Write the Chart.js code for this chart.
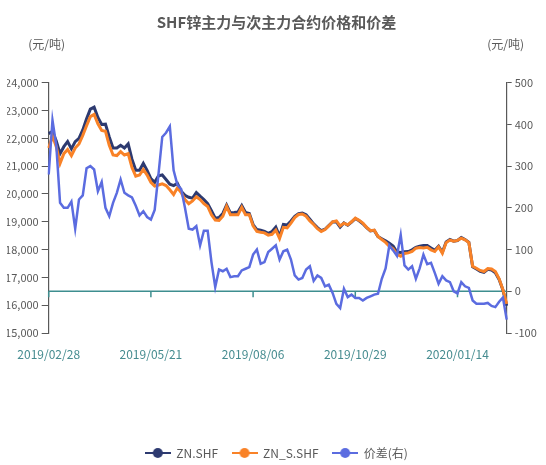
<!DOCTYPE html>
<html>
<head>
<meta charset="utf-8">
<script src="https://cdn.jsdelivr.net/npm/chart.js@4.4.1/dist/chart.umd.min.js"></script>
<style>
  html, body { margin: 0; padding: 0; background: #fff; }
  #wrap { width: 546px; height: 465px; }
</style>
</head>
<body>
<div id="wrap"><canvas id="spreadChart" width="546" height="465"></canvas></div>
<script>
// exchange closed on these weekdays
var holidays = ['2019/04/05', '2019/05/01', '2019/05/02', '2019/05/03', '2019/06/07', '2019/09/13',
  '2019/10/01', '2019/10/02', '2019/10/03', '2019/10/04', '2019/10/07', '2020/01/01',
  '2020/01/24', '2020/01/27', '2020/01/28', '2020/01/29', '2020/01/30', '2020/01/31'];
var tickLabels = ['2019/02/28', '2019/05/21', '2019/08/06', '2019/10/29', '2020/01/14'];

// every second trading day, 2019/02/28 .. 2020/02/27
var znMain = [
  22170, 22250, 21900, 21450, 21700, 21880, 21620, 21880, 22000, 22300,
  22700, 23050, 23120, 22750, 22500, 22510, 22050, 21650, 21650, 21750,
  21650, 21800, 21250, 20850, 20850, 21100, 20850, 20550, 20420, 20650,
  20680, 20520, 20350, 20300, 20380, 20100, 19950, 19880, 19850, 20050,
  19920, 19800, 19650, 19400, 19130, 19150, 19300, 19600, 19320, 19330,
  19350, 19580, 19330, 19300, 18900, 18720, 18700, 18650, 18580,
  18650, 18810, 18480, 18900, 18880, 19030, 19190, 19290, 19310, 19250,
  19090, 18925, 18790, 18680, 18730, 18865, 18995, 19000, 18810, 18955,
  18875, 18990, 19115, 19035, 18930, 18785, 18670, 18690, 18465, 18390,
  18315, 18230, 18130, 17915, 17895, 17920, 17930, 17990, 18080, 18125,
  18150, 18145, 18060, 17975, 18120, 17905, 18275, 18360, 18300, 18325,
  18430, 18360, 18260, 17380, 17300, 17220, 17180, 17290, 17265, 17170,
  16925, 16545, 15980
];
var znSub = [
  21650, 22080, 21700, 21100, 21450, 21600, 21380, 21650, 21800, 22100,
  22450, 22780, 22860, 22520, 22280, 22250, 21750, 21400, 21380, 21520,
  21400, 21450, 20950, 20640, 20680, 20880, 20680, 20420, 20280, 20320,
  20360, 20300, 20150, 19980, 20220, 20050, 19800, 19650, 19750, 19900,
  19800, 19650, 19550, 19250, 19060, 19050, 19200, 19550, 19250, 19250,
  19250, 19520, 19250, 19250, 18850, 18650, 18620, 18600, 18520,
  18550, 18700, 18400, 18800, 18780, 18950, 19150, 19260, 19280, 19200,
  19030, 18900, 18750, 18650, 18720, 18850, 19000, 19030, 18850, 18950,
  18890, 19000, 19130, 19050, 18950, 18800, 18680, 18700, 18470, 18360,
  18260, 18120, 18030, 17830, 17760, 17860, 17880, 17930, 18050, 18070,
  18060, 18080, 17990, 17930, 18100, 17870, 18250, 18340, 18300, 18330,
  18410, 18350, 18250, 17400, 17330, 17250, 17210, 17320, 17300, 17210,
  16950, 16560, 16050
];
var spread = [
  280, 410, 350, 212, 200, 200, 215, 150, 220, 230,
  295, 300, 292, 240, 262, 200, 180, 212, 236, 268,
  236, 230, 225, 205, 182, 192, 178, 172, 195, 280,
  370, 380, 395, 290, 255, 245, 200, 150, 148, 156,
  110, 145, 145, 70, 10, 52, 48, 54, 34, 36,
  36, 50, 54, 58, 88, 100, 66, 70, 94, 102,
  110, 76, 96, 100, 76, 38, 28, 32, 52, 60,
  25, 38, 32, 12, 16, -4, -30, -40, 6, -14,
  -8, -16, -16, -22, -16, -12, -8, -6, 30, 55,
  110, 98, 85, 135, 62, 52, 60, 30, 55, 88,
  65, 68, 44, 18, 36, 26, 22, 0, -5, 22,
  12, 8, -22, -30, -30, -30, -28, -35, -38, -25,
  -15, -68
];

function fmt(d) {
  var m = d.getUTCMonth() + 1, day = d.getUTCDate();
  return d.getUTCFullYear() + '/' + (m < 10 ? '0' : '') + m + '/' + (day < 10 ? '0' : '') + day;
}
var tradingDays = [];
var d = new Date(Date.UTC(2019, 1, 28));
var endTime = Date.UTC(2020, 1, 28);
while (d.getTime() <= endTime) {
  var wd = d.getUTCDay(), s = fmt(d);
  if (wd !== 0 && wd !== 6 && holidays.indexOf(s) < 0) tradingDays.push(s);
  d.setUTCDate(d.getUTCDate() + 1);
}
var dates = tradingDays.filter(function(s, i) { return i % 2 === 0; }).slice(0, znMain.length);

var navy = '#2D3A70', orange = '#F98227', blue = '#5B6CE0', teal = '#3E8E8F', grey = '#595959';
Chart.defaults.font.family = '"Noto Sans CJK SC", "Noto Sans", sans-serif';

// line + dot, as in the legend of the original
function legendMark(color) {
  var c = document.createElement('canvas');
  c.width = 26; c.height = 12;
  var g = c.getContext('2d');
  g.strokeStyle = color; g.lineWidth = 2;
  g.beginPath(); g.moveTo(0, 6); g.lineTo(26, 6); g.stroke();
  g.fillStyle = color;
  g.beginPath(); g.arc(13, 6, 5, 0, Math.PI * 2); g.fill();
  return c;
}

var zeroAxis = {
  id: 'zeroAxis',
  beforeDatasetsDraw: function(chart) {
    var ctx = chart.ctx, area = chart.chartArea, xs = chart.scales.x;
    var y0 = chart.scales.y1.getPixelForValue(0);
    ctx.save();
    ctx.strokeStyle = teal;
    ctx.lineWidth = 1.5;
    ctx.beginPath();
    ctx.moveTo(area.left, y0);
    ctx.lineTo(area.right, y0);
    tickLabels.forEach(function(lbl) {
      var px = xs.getPixelForValue(dates.indexOf(lbl));
      ctx.moveTo(px, y0);
      ctx.lineTo(px, y0 + 6);
    });
    ctx.stroke();
    ctx.restore();
  },
  afterDraw: function(chart) {
    var ctx = chart.ctx, area = chart.chartArea;
    ctx.save();
    ctx.font = '12px "Noto Sans CJK SC"';
    ctx.fillStyle = grey;
    ctx.textAlign = 'center';
    ctx.textBaseline = 'middle';
    ctx.fillText('(元/吨)', area.left - 2, area.top - 38);
    ctx.fillText('(元/吨)', area.right - 1, area.top - 38);
    ctx.restore();
  }
};

var ctx = document.getElementById('spreadChart').getContext('2d');
new Chart(ctx, {
  type: 'line',
  data: {
    labels: dates,
    datasets: [{
      label: 'ZN.SHF',
      data: znMain,
      yAxisID: 'y',
      borderColor: navy,
      backgroundColor: navy,
      borderWidth: 3,
      pointRadius: 0,
      pointStyle: legendMark(navy),
      tension: 0,
      order: 2
    }, {
      label: 'ZN_S.SHF',
      data: znSub,
      yAxisID: 'y',
      borderColor: orange,
      backgroundColor: orange,
      borderWidth: 3,
      pointRadius: 0,
      pointStyle: legendMark(orange),
      tension: 0,
      order: 1
    }, {
      label: '价差(右)',
      data: spread,
      yAxisID: 'y1',
      borderColor: blue,
      backgroundColor: blue,
      borderWidth: 2.5,
      pointRadius: 0,
      pointStyle: legendMark(blue),
      tension: 0,
      order: 0
    }]
  },
  options: {
    responsive: false,
    animation: false,
    devicePixelRatio: 1,
    layout: { padding: { left: 7, right: 0, top: 0, bottom: -4 } },
    plugins: {
      title: {
        display: true,
        text: 'SHF锌主力与次主力合约价格和价差',
        color: grey,
        font: { size: 15, weight: 'bold' },
        padding: { top: 13.6, bottom: 51.1 }
      },
      legend: {
        position: 'bottom',
        labels: {
          usePointStyle: true,
          pointStyleWidth: 25,
          padding: 14,
          color: grey,
          font: { size: 12 },
          sort: function(a, b) { return a.datasetIndex - b.datasetIndex; }
        }
      },
      tooltip: { enabled: false }
    },
    scales: {
      x: {
        type: 'category',
        grid: { display: false },
        border: { display: false },
        ticks: {
          autoSkip: false,
          maxRotation: 0,
          minRotation: 0,
          padding: 6,
          color: '#468C90',
          font: { size: 12 },
          callback: function(v) {
            var l = this.getLabelForValue(v);
            return tickLabels.indexOf(l) >= 0 ? l : '';
          }
        },
        afterFit: function(s) { s.height = 100; }
      },
      y: {
        position: 'left',
        min: 15000,
        max: 24000,
        ticks: {
          stepSize: 1000,
          padding: 3,
          color: grey,
          font: { size: 11 },
          callback: function(v) { return v.toLocaleString('en-US'); }
        },
        grid: { drawOnChartArea: false, drawTicks: true, tickLength: 7, color: grey },
        border: { color: grey, width: 1.2 },
        afterFit: function(s) { s.width = 41.7; }
      },
      y1: {
        position: 'right',
        min: -100,
        max: 500,
        ticks: { stepSize: 100, padding: 3, color: grey, font: { size: 11 } },
        grid: { drawOnChartArea: false, drawTicks: true, tickLength: 5, color: grey },
        border: { color: grey, width: 1.2 },
        afterFit: function(s) { s.width = 39.3; }
      }
    }
  },
  plugins: [zeroAxis]
});
</script>
</body>
</html>
